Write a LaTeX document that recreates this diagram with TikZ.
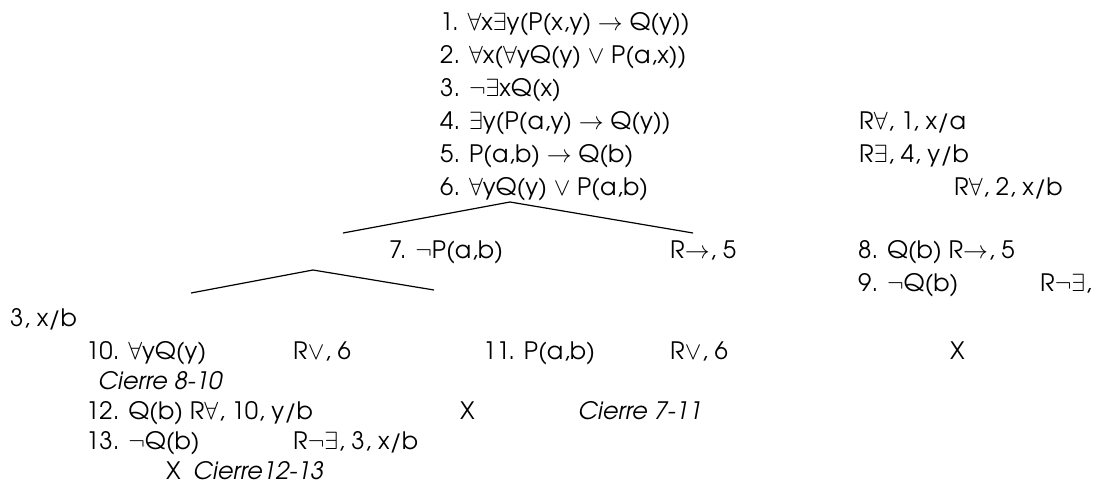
\documentclass[tikz,border=0pt]{standalone}
\usepackage{fontspec}
\setmainfont{TeX Gyre Adventor}
\usepackage{amssymb}
\usetikzlibrary{positioning}
\tikzset{
  every picture/.style={font=\fontsize{24}{28}\selectfont},
  ln/.style={anchor=base west,inner sep=0pt},
  cierre/.style={ln,font=\fontsize{24}{28}\selectfont\itshape},
  branch/.style={line width=1.2pt},
}

\begin{document}
\begin{tikzpicture}[x=1pt,y=-1pt]
  \useasboundingbox (0,0) rectangle (1106,490);
  % premisas y trunco
  \node[ln] (l1) at (440,30) {1. $\forall$x$\exists$y(P(x,y) $\rightarrow$ Q(y))};
  \node[ln] (l2) at (440,63) {2. $\forall$x($\forall$yQ(y) $\vee$ P(a,x))};
  \node[ln] (l3) at (440,96) {3. $\neg\exists$xQ(x)};
  \node[ln] (l4) at (440,129) {4. $\exists$y(P(a,y) $\rightarrow$ Q(y))};
  \node[ln] (j4) at (859,129) {R$\forall$, 1, x/a};
  \node[ln] (l5) at (440,162) {5. P(a,b) $\rightarrow$ Q(b)};
  \node[ln] (j5) at (859,162) {R$\exists$, 4, y/b};
  \node[ln] (l6) at (440,195) {6. $\forall$yQ(y) $\vee$ P(a,b)};
  \node[ln] (j6) at (954,195) {R$\forall$, 2, x/b};
  % primera bifurcacion
  \coordinate (top1) at (510,202);
  \coordinate (left1) at (343,233);
  \coordinate (right1) at (693,233);
  \draw[branch] (left1) -- (top1) -- (right1);
  \node[ln] (l7) at (389,258) {7. $\neg$P(a,b)};
  \node[ln] (j7) at (670,258) {R$\rightarrow$, 5};
  \node[ln] (l8) at (858,258) {8. Q(b) R$\rightarrow$, 5};
  \node[ln] (l9) at (858,291) {9. $\neg$Q(b)};
  \node[ln] (j9) at (1040,291) {R$\neg\exists$,};
  % segunda bifurcacion
  \coordinate (top2) at (313,270);
  \coordinate (left2) at (191,293);
  \coordinate (right2) at (434,290);
  \draw[branch] (left2) -- (top2) -- (right2);
  \node[ln] (j9b) at (10,326) {3, x/b};
  \node[ln] (l10) at (86,359) {10. $\forall$yQ(y)};
  \node[ln] (j10) at (293,359) {R$\vee$, 6};
  \node[ln] (l11) at (483,359) {11. P(a,b)};
  \node[ln] (j11) at (670,359) {R$\vee$, 6};
  \node[ln] (x9) at (950,359) {X};
  \node[cierre] (c1) at (98,389) {Cierre 8-10};
  \node[ln] (l12) at (86,419) {12. Q(b) R$\forall$, 10, y/b};
  \node[ln] (x11) at (460,419) {X};
  \node[cierre] (c2) at (578,419) {Cierre 7-11};
  \node[ln] (l13) at (86,449) {13. $\neg$Q(b)};
  \node[ln] (j13) at (293,449) {R$\neg\exists$, 3, x/b};
  \node[ln] (x13) at (166,479) {X};
  \node[cierre] (c3) at (193,479) {Cierre12-13};
\end{tikzpicture}
\end{document}
